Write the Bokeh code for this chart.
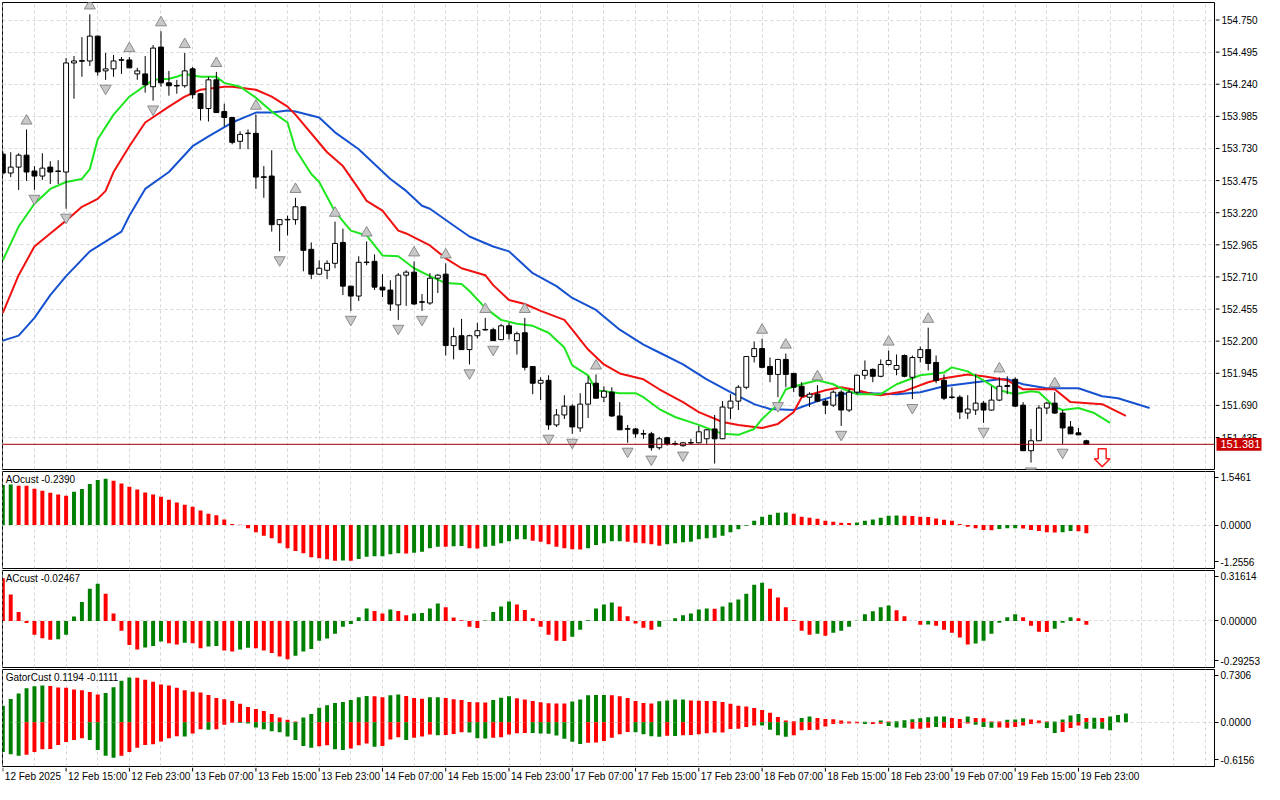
import numpy as np
from bokeh.plotting import figure
from bokeh.layouts import column, row
from bokeh.models import Range1d, FixedTicker, Span
from bokeh.core.properties import value
from bokeh.embed import file_html
from bokeh.resources import INLINE

FONT = "Liberation Sans"
GREEN = "#008000"
RED = "#ff0000"
GRID = "#d6d6d6"

# ---- H1 bars, 12 Feb 07:00 .. 20 Feb 00:00 (bar index = position on chart)
time_ticks = list(range(0, 137, 8))
time_labels = ["12 Feb 2025", "12 Feb 15:00", "12 Feb 23:00", "13 Feb 07:00", "13 Feb 15:00",
               "13 Feb 23:00", "14 Feb 07:00", "14 Feb 15:00", "14 Feb 23:00", "17 Feb 07:00",
               "17 Feb 15:00", "17 Feb 23:00", "18 Feb 07:00", "18 Feb 15:00", "18 Feb 23:00",
               "19 Feb 07:00", "19 Feb 15:00", "19 Feb 23:00"]

opens = [
    153.685, 153.535, 153.582, 153.677, 153.551, 153.511, 153.582, 153.551, 153.543, 154.409,
    154.422, 154.425, 154.622, 154.346, 154.362, 154.430, 154.433, 154.322, 154.322, 154.220,
    154.535, 154.251, 154.230, 154.228, 154.362, 154.165, 154.047, 154.275, 154.023, 153.976,
    153.787, 153.848, 153.850, 153.505, 153.511, 153.125, 153.163, 153.165, 153.267, 152.929,
    152.732, 152.763, 152.818, 152.984, 152.637, 152.558, 152.824, 152.834, 152.629, 152.606,
    152.488, 152.724, 152.748, 152.513, 152.503, 152.700, 152.732, 152.165, 152.243, 152.133,
    152.243, 152.289, 152.291, 152.212, 152.322, 152.204, 152.267, 151.999, 151.866, 151.889,
    151.535, 151.614, 151.684, 151.511, 151.700, 151.866, 151.755, 151.795, 151.606, 151.505,
    151.503, 151.466, 151.464, 151.354, 151.433, 151.387, 151.370, 151.391, 151.393, 151.425,
    151.503, 151.425, 151.669, 151.724, 151.834, 152.078, 152.141, 151.999, 151.936, 152.055,
    151.944, 151.842, 151.755, 151.779, 151.724, 151.692, 151.795, 151.653, 151.795, 151.929,
    151.976, 151.921, 152.015, 151.976, 152.086, 151.913, 152.070, 152.133, 152.031, 151.889,
    151.757, 151.755, 151.629, 151.653, 151.708, 151.653, 151.732, 151.840, 151.897, 151.692,
    151.330, 151.409, 151.669, 151.708, 151.629, 151.519, 151.472, 151.409,
]
highs = [
    153.708, 153.700, 153.692, 153.881, 153.590, 153.692, 153.629, 153.637, 154.448, 154.464,
    154.614, 154.795, 154.625, 154.488, 154.472, 154.456, 154.456, 154.370, 154.464, 154.551,
    154.661, 154.346, 154.275, 154.488, 154.377, 154.167, 154.299, 154.338, 154.086, 153.978,
    153.866, 153.881, 153.999, 153.590, 153.716, 153.167, 153.196, 153.338, 153.270, 152.984,
    152.842, 152.842, 153.149, 153.094, 152.640, 152.874, 152.992, 152.889, 152.732, 152.684,
    152.740, 152.763, 152.834, 152.574, 152.740, 152.732, 152.818, 152.307, 152.377, 152.251,
    152.346, 152.385, 152.307, 152.338, 152.346, 152.275, 152.385, 152.002, 151.913, 151.929,
    151.661, 151.771, 151.700, 151.787, 151.921, 151.936, 151.842, 151.834, 151.716, 151.535,
    151.511, 151.496, 151.480, 151.440, 151.440, 151.409, 151.401, 151.425, 151.527, 151.503,
    151.614, 151.724, 151.779, 151.850, 152.080, 152.196, 152.220, 152.070, 152.057, 152.102,
    151.947, 151.874, 151.795, 151.850, 151.740, 151.810, 151.810, 151.818, 151.936, 152.047,
    151.984, 152.055, 152.126, 152.094, 152.094, 152.086, 152.157, 152.307, 152.086, 151.936,
    151.834, 151.771, 151.771, 151.936, 151.724, 151.842, 151.913, 151.921, 151.913, 151.716,
    151.503, 151.692, 151.716, 151.795, 151.653, 151.566, 151.511, 151.417,
]
lows = [
    153.519, 153.503, 153.401, 153.472, 153.401, 153.480, 153.448, 153.448, 153.251, 154.125,
    154.299, 154.385, 154.307, 154.275, 154.299, 154.322, 154.368, 154.275, 154.173, 154.110,
    154.220, 154.149, 154.165, 154.212, 154.125, 153.952, 153.944, 154.013, 153.905, 153.763,
    153.724, 153.724, 153.409, 153.338, 153.070, 152.913, 153.039, 153.125, 152.755, 152.692,
    152.730, 152.692, 152.779, 152.566, 152.440, 152.519, 152.803, 152.606, 152.551, 152.440,
    152.369, 152.480, 152.488, 152.440, 152.488, 152.582, 152.086, 152.055, 152.130, 152.015,
    152.220, 152.283, 152.202, 152.210, 152.212, 152.094, 151.968, 151.779, 151.732, 151.496,
    151.519, 151.582, 151.464, 151.480, 151.590, 151.745, 151.716, 151.598, 151.494, 151.393,
    151.433, 151.425, 151.330, 151.338, 151.370, 151.370, 151.362, 151.377, 151.391, 151.385,
    151.228, 151.423, 151.582, 151.653, 151.818, 152.031, 151.984, 151.874, 151.755, 151.834,
    151.795, 151.755, 151.677, 151.716, 151.622, 151.677, 151.527, 151.637, 151.779, 151.897,
    151.874, 151.913, 152.007, 151.929, 151.913, 151.740, 152.031, 151.968, 151.866, 151.732,
    151.740, 151.582, 151.582, 151.614, 151.551, 151.650, 151.724, 151.779, 151.677, 151.328,
    151.236, 151.407, 151.622, 151.622, 151.385, 151.462, 151.454, 151.381,
]
closes = [
    153.535, 153.582, 153.677, 153.543, 153.511, 153.574, 153.543, 153.548, 154.409, 154.425,
    154.428, 154.622, 154.338, 154.362, 154.425, 154.435, 154.370, 154.346, 154.236, 154.527,
    154.251, 154.228, 154.226, 154.346, 154.157, 154.047, 154.275, 154.015, 153.976, 153.779,
    153.842, 153.852, 153.503, 153.500, 153.125, 153.165, 153.167, 153.267, 152.921, 152.732,
    152.779, 152.818, 152.976, 152.637, 152.558, 152.826, 152.828, 152.629, 152.606, 152.495,
    152.724, 152.748, 152.495, 152.509, 152.700, 152.724, 152.165, 152.236, 152.133, 152.243,
    152.283, 152.293, 152.204, 152.322, 152.259, 152.259, 151.992, 151.866, 151.889, 151.535,
    151.614, 151.684, 151.519, 151.700, 151.866, 151.747, 151.803, 151.606, 151.496, 151.501,
    151.464, 151.462, 151.354, 151.425, 151.385, 151.383, 151.393, 151.395, 151.480, 151.496,
    151.425, 151.677, 151.724, 151.834, 152.078, 152.141, 151.992, 151.936, 152.055, 151.936,
    151.834, 151.763, 151.779, 151.724, 151.692, 151.795, 151.653, 151.795, 151.929, 151.968,
    151.921, 152.015, 152.047, 152.007, 151.921, 152.070, 152.133, 152.023, 151.889, 151.747,
    151.753, 151.637, 151.661, 151.708, 151.653, 151.732, 151.842, 151.848, 151.684, 151.330,
    151.409, 151.669, 151.708, 151.629, 151.511, 151.464, 151.456, 151.381,
]
last_price = 151.381

# fractal bars
frac_up = [3, 11, 16, 20, 23, 27, 32, 37, 42, 46, 52, 56, 61, 66, 75, 96, 99, 103, 112, 117, 126, 133]
frac_dn = [4, 8, 13, 19, 35, 44, 50, 53, 59, 62, 69, 72, 79, 82, 86, 90, 98, 106, 115, 124, 130, 134]

# sell signal arrow
signal_bar = 139
signal_price = 151.346

# Alligator lines (already shifted forward), read at these bars
lips_idx = [0, 2, 4, 6, 8, 10, 11, 12, 14, 16, 19, 21, 22, 23, 25, 27, 28, 30, 32, 34, 36, 37, 39, 40, 42,
            44, 46, 48, 50, 52, 54, 56, 58, 59, 61, 63, 65, 67, 69, 71, 72, 74, 75, 78, 80, 81, 83, 85,
            88, 91, 93, 95, 96, 98, 99, 101, 103, 105, 106, 108, 111, 113, 116, 119, 120, 122, 124, 126,
            128, 130, 131, 133, 134, 136, 138, 140]
lips_val = [152.842, 153.110, 153.291, 153.409, 153.464, 153.488, 153.566, 153.803, 153.999, 154.141,
            154.275, 154.283, 154.299, 154.322, 154.299, 154.299, 154.251, 154.220, 154.133, 154.023,
            153.936, 153.724, 153.527, 153.464, 153.228, 153.078, 153.039, 152.881, 152.874, 152.779,
            152.716, 152.661, 152.653, 152.598, 152.464, 152.369, 152.338, 152.322, 152.267, 152.149,
            152.007, 151.929, 151.810, 151.787, 151.787, 151.755, 151.661, 151.598, 151.535, 151.464,
            151.456, 151.503, 151.582, 151.700, 151.818, 151.858, 151.889, 151.858, 151.826, 151.779,
            151.779, 151.858, 151.929, 151.952, 151.992, 151.960, 151.889, 151.810, 151.779, 151.803,
            151.795, 151.677, 151.653, 151.669, 151.629, 151.551]
teeth_idx = [0, 2, 4, 6, 8, 10, 12, 13, 14, 16, 18, 21, 23, 25, 28, 29, 32, 34, 36, 37, 41, 43, 45, 46,
             48, 50, 51, 54, 56, 58, 61, 62, 64, 66, 68, 71, 72, 74, 76, 78, 81, 83, 86, 88, 91, 93, 95,
             96, 98, 100, 101, 104, 106, 108, 110, 111, 114, 117, 119, 122, 124, 127, 129, 131, 133, 135,
             139, 142]
teeth_val = [152.425, 152.724, 152.952, 153.055, 153.157, 153.267, 153.330, 153.393, 153.543, 153.748,
             153.936, 154.062, 154.141, 154.196, 154.220, 154.220, 154.196, 154.141, 154.062, 153.999,
             153.700, 153.590, 153.409, 153.314, 153.236, 153.078, 153.055, 152.960, 152.858, 152.779,
             152.724, 152.645, 152.527, 152.495, 152.440, 152.369, 152.291, 152.133, 152.015, 151.944,
             151.897, 151.818, 151.716, 151.637, 151.558, 151.535, 151.519, 151.511, 151.543, 151.637,
             151.755, 151.810, 151.834, 151.810, 151.779, 151.771, 151.803, 151.874, 151.905, 151.936,
             151.921, 151.889, 151.818, 151.818, 151.818, 151.716, 151.700, 151.606]
jaw_idx = [0, 2, 4, 6, 8, 11, 15, 16, 18, 21, 24, 26, 29, 32, 34, 36, 37, 40, 42, 45, 49, 51, 53, 54, 57,
           59, 62, 64, 67, 70, 72, 75, 78, 81, 83, 86, 89, 92, 95, 97, 100, 101, 103, 106, 108, 110, 113,
           116, 119, 122, 126, 127, 129, 132, 136, 139, 141, 145]
jaw_val = [152.204, 152.244, 152.385, 152.566, 152.716, 152.913, 153.070, 153.196, 153.409, 153.543,
           153.748, 153.826, 153.936, 154.015, 154.015, 154.031, 154.023, 153.976, 153.858, 153.724,
           153.488, 153.393, 153.275, 153.251, 153.118, 153.031, 152.952, 152.913, 152.740, 152.637,
           152.543, 152.448, 152.291, 152.173, 152.110, 152.015, 151.897, 151.795, 151.700, 151.661,
           151.653, 151.677, 151.724, 151.779, 151.795, 151.787, 151.779, 151.795, 151.842, 151.866,
           151.897, 151.897, 151.858, 151.826, 151.826, 151.763, 151.747, 151.669]

# Awesome oscillator
ao = [1.154, 1.173, 1.135, 1.135, 1.048, 0.990, 0.933, 0.885, 0.846, 0.962,
      1.038, 1.183, 1.298, 1.337, 1.279, 1.202, 1.106, 1.029, 0.942, 0.885,
      0.817, 0.731, 0.654, 0.587, 0.529, 0.423, 0.327, 0.279, 0.163, 0.029,
      0.006, -0.096, -0.212, -0.308, -0.385, -0.529, -0.673, -0.750, -0.817, -0.933,
      -0.962, -0.990, -1.035, -1.025, -1.030, -0.981, -0.913, -0.905, -0.900, -0.846,
      -0.817, -0.820, -0.798, -0.769, -0.673, -0.625, -0.630, -0.610, -0.605, -0.673,
      -0.680, -0.625, -0.596, -0.529, -0.471, -0.413, -0.410, -0.452, -0.481, -0.558,
      -0.625, -0.673, -0.702, -0.710, -0.673, -0.577, -0.529, -0.471, -0.465, -0.481,
      -0.510, -0.529, -0.558, -0.596, -0.558, -0.529, -0.500, -0.481, -0.413, -0.385,
      -0.365, -0.308, -0.212, -0.125, -0.019, 0.125, 0.240, 0.298, 0.356, 0.360,
      0.327, 0.240, 0.212, 0.183, 0.125, 0.096, 0.067, 0.062, 0.070, 0.125,
      0.163, 0.212, 0.269, 0.272, 0.268, 0.260, 0.240, 0.235, 0.192, 0.154,
      0.125, 0.029, -0.048, -0.096, -0.144, -0.150, -0.115, -0.096, -0.090, -0.098,
      -0.144, -0.173, -0.212, -0.218, -0.210, -0.173, -0.180, -0.239]
ao_col = ("ggrrrrrrrg" "ggggrrrrrr" "rrrrrrrrrr" "rrrrrrrrrr" "rrrgrggggg" "grggggrggr"
          "rggggggrrr" "rrrrgggggr" "rrrrgggggg" "gggggggggg" "rrrrrrrrgg" "ggggrrrrrr"
          "rrrrrrgggr" "rrrrggrr")

# Accelerator oscillator
ac = [0.268, 0.165, 0.056, -0.014, -0.087, -0.109, -0.118, -0.115, -0.087, 0.027,
      0.118, 0.202, 0.233, 0.171, 0.047, -0.062, -0.151, -0.179, -0.167, -0.157,
      -0.130, -0.140, -0.148, -0.138, -0.140, -0.171, -0.161, -0.157, -0.186, -0.192,
      -0.179, -0.169, -0.171, -0.186, -0.202, -0.223, -0.241, -0.219, -0.192, -0.177,
      -0.124, -0.111, -0.080, -0.037, -0.019, 0.023, 0.078, 0.062, 0.047, 0.072,
      0.062, 0.035, 0.047, 0.050, 0.078, 0.109, 0.085, 0.021, 0.004, -0.037,
      -0.045, 0.002, 0.056, 0.091, 0.122, 0.103, 0.068, 0.016, -0.037, -0.087,
      -0.124, -0.126, -0.099, -0.056, 0.004, 0.078, 0.103, 0.115, 0.091, 0.029,
      -0.016, -0.043, -0.056, -0.037, 0.001, 0.016, 0.035, 0.047, 0.072, 0.078,
      0.076, 0.091, 0.115, 0.134, 0.171, 0.227, 0.239, 0.202, 0.146, 0.085,
      0.006, -0.062, -0.087, -0.080, -0.093, -0.074, -0.062, -0.037, 0.001, 0.041,
      0.060, 0.085, 0.097, 0.066, 0.029, -0.001, -0.025, -0.023, -0.031, -0.056,
      -0.074, -0.105, -0.148, -0.142, -0.124, -0.080, -0.012, 0.023, 0.041, 0.023,
      -0.031, -0.068, -0.070, -0.049, -0.012, 0.023, 0.016, -0.0247]
ac_col = ("rrrrrrrggg" "gggrrrrrgg" "grrgrrggrr" "ggrrrrrggg" "gggggggrrg" "rrggggrrrr"
          "rggggrrrrr" "rrggggggrr" "rrrggggggg" "rggggggrrr" "rrrgrggggg" "gggrrrrgrr"
          "rrrggggggr" "rrrgggrr")

# Gator oscillator (upper = |jaw-teeth|, lower = -|teeth-lips|)
gator_up = [0.227, 0.322, 0.399, 0.471, 0.499, 0.508, 0.503, 0.481, 0.478, 0.453,
            0.444, 0.417, 0.385, 0.403, 0.485, 0.576, 0.621, 0.617, 0.589, 0.562,
            0.521, 0.508, 0.476, 0.444, 0.422, 0.413, 0.376, 0.335, 0.317, 0.295,
            0.254, 0.209, 0.181, 0.154, 0.113, 0.063, 0.032, 0.008, 0.063, 0.113,
            0.199, 0.236, 0.267, 0.281, 0.308, 0.345, 0.363, 0.358, 0.345, 0.372,
            0.385, 0.363, 0.335, 0.326, 0.345, 0.347, 0.335, 0.317, 0.308, 0.281,
            0.277, 0.274, 0.308, 0.340, 0.358, 0.331, 0.313, 0.295, 0.277, 0.263,
            0.260, 0.258, 0.286, 0.313, 0.372, 0.376, 0.378, 0.372, 0.358, 0.335,
            0.295, 0.267, 0.258, 0.290, 0.299, 0.313, 0.315, 0.299, 0.297, 0.295,
            0.292, 0.281, 0.254, 0.227, 0.218, 0.195, 0.168, 0.131, 0.073, 0.023,
            0.014, 0.059, 0.077, 0.059, 0.045, 0.041, 0.023, 0.009, 0.005, 0.006,
            0.002, 0.023, 0.009, 0.014, 0.027, 0.041, 0.054, 0.068, 0.077, 0.078,
            0.059, 0.045, 0.077, 0.059, 0.054, 0.009, 0.008, 0.032, 0.036, 0.054,
            0.036, 0.023, 0.009, 0.010, 0.036, 0.091, 0.113, 0.059, 0.062, 0.059,
            0.077, 0.100, 0.119]
gator_up_col = ("ggggggrrrr" "rrrggggrrr" "rrrrrrrrrr" "rrrrrrrrgg" "gggggggrrg" "grrrggrrrr"
                "rrgggrrrrr" "rrgggggrrr" "rrrggggrrr" "rrrrrrrrrr" "rggrrrrrrg" "rgrggggggg"
                "rrgrrrrggg" "rrrggggrgr" "ggg")
gator_dn = [-0.413, -0.444, -0.467, -0.453, -0.413, -0.376, -0.374, -0.317, -0.277, -0.249,
            -0.222, -0.249, -0.385, -0.467, -0.494, -0.467, -0.413, -0.354, -0.317, -0.308,
            -0.267, -0.222, -0.195, -0.199, -0.159, -0.100, -0.104, -0.100, -0.036, -0.009,
            -0.012, -0.018, -0.073, -0.100, -0.127, -0.141, -0.199, -0.249, -0.331, -0.354,
            -0.335, -0.320, -0.376, -0.385, -0.367, -0.322, -0.295, -0.340, -0.331, -0.240,
            -0.209, -0.249, -0.218, -0.199, -0.172, -0.181, -0.177, -0.163, -0.141, -0.145,
            -0.222, -0.227, -0.218, -0.209, -0.172, -0.154, -0.150, -0.152, -0.156, -0.160,
            -0.186, -0.230, -0.272, -0.304, -0.286, -0.281, -0.263, -0.218, -0.168, -0.136,
            -0.140, -0.168, -0.195, -0.204, -0.190, -0.193, -0.181, -0.179, -0.168, -0.154,
            -0.145, -0.143, -0.095, -0.091, -0.068, -0.045, -0.048, -0.104, -0.181, -0.204,
            -0.181, -0.113, -0.109, -0.104, -0.059, -0.027, -0.023, -0.018, -0.014, -0.027,
            -0.025, -0.023, -0.054, -0.073, -0.077, -0.091, -0.091, -0.077, -0.068, -0.077,
            -0.082, -0.082, -0.018, -0.036, -0.068, -0.077, -0.073, -0.077, -0.068, -0.045,
            -0.027, -0.014, -0.082, -0.150, -0.136, -0.082, -0.045, -0.091, -0.091, -0.091,
            -0.111]
gator_dn_col = ("gggrrrrrrr" "rggggrrrrr" "rrrgrrgrrr" "gggggggggg" "rrggrrrgrr" "rgrrrgrrrg"
                "ggrrrrrggg" "ggggrrrrrr" "ggggrgrrrr" "rrrrrrgggg" "rrrrrrrrrg" "rrgggrrrgr"
                "rrrgggrrrr" "rrggrrrggg" "g")

# axis scales
price_ticks = [154.750, 154.495, 154.240, 153.985, 153.730, 153.475, 153.220, 152.965,
               152.710, 152.455, 152.200, 151.945, 151.690, 151.435]
price_lo, price_hi = 151.181, 154.889
ao_lo, ao_hi = -1.2556, 1.5461
ac_lo, ac_hi = -0.29253, 0.31614
gator_lo, gator_hi = -0.6156, 0.7306

W = 1264
AXIS_W = 50
xr = Range1d(-0.04, 153.2)
vgrid_ticks = list(range(0, 156, 4))


def bare(p):
    p.outline_line_color = None
    p.xgrid.visible = False
    p.ygrid.visible = False


def make_panel(w, h, lo, hi, top=1, bottom=1, right=AXIS_W, yaxis=True):
    p = figure(width=w, height=h, x_range=xr, y_range=Range1d(lo, hi),
               x_axis_location=None, y_axis_location="right" if yaxis else None,
               toolbar_location=None, output_backend="svg",
               min_border_left=2, min_border_right=right, min_border_top=top, min_border_bottom=bottom)
    p.outline_line_color = "black"
    p.outline_line_alpha = 1.0
    p.xgrid.ticker = FixedTicker(ticks=vgrid_ticks)
    for g in (p.xgrid, p.ygrid):
        g.grid_line_color = GRID
        g.grid_line_dash = "3 3"
    if yaxis:
        ax = p.yaxis[0]
        ax.major_tick_out = 4
        ax.major_tick_in = 0
        ax.minor_tick_line_color = None
        ax.axis_line_color = "black"
        ax.major_tick_line_color = "black"
        ax.major_label_text_font = FONT
        ax.major_label_text_font_size = "10px"
        ax.major_label_text_color = "black"
        ax.major_label_standoff = 2
    return p


def sub_axis(p, lo, hi, labels):
    # end labels sit just inside the panel, like the terminal draws them
    span = hi - lo
    t_hi = round(hi - 0.06 * span, 5)
    t_lo = round(lo + 0.07 * span, 5)
    p.yaxis.ticker = FixedTicker(ticks=[t_lo, 0.0, t_hi])
    p.yaxis.major_label_overrides = {t_hi: labels[0], 0.0: labels[1], t_lo: labels[2]}
    p.ygrid.ticker = FixedTicker(ticks=[0.0])


def title(p, lo, hi, text):
    p.text(x=[xr.start + 0.4], y=[hi - 0.03 * (hi - lo)], text=[text],
           text_baseline="top", text_align="left", text_font=value(FONT),
           text_font_size="10px", text_color="black")


def histogram(p, vals, cols):
    v = np.array(vals)
    x = np.arange(len(v))
    colors = [GREEN if ch == "g" else RED for ch in cols]
    p.vbar(x=x, top=np.maximum(v, 0), bottom=np.minimum(v, 0), width=0.5,
           fill_color=colors, line_color=None)


# ---- main price panel (its price scale is a separate strip on the right)
MAIN_H = 470
p = make_panel(W - AXIS_W + 1, MAIN_H, price_lo, price_hi, top=2, right=1, yaxis=False)
p.ygrid.ticker = FixedTicker(ticks=price_ticks)

p.add_layout(Span(location=last_price, dimension="width", line_color="#a00000", line_width=1))

o = np.array(opens)
c = np.array(closes)
hi_ = np.array(highs)
lo_ = np.array(lows)
idx = np.arange(len(o))
bull = c >= o
btop = np.maximum(o, c)
bbot = np.minimum(o, c)

p.line(jaw_idx, jaw_val, line_color="#1652d0", line_width=2)
p.line(teeth_idx, teeth_val, line_color="#f01010", line_width=2)
p.line(lips_idx, lips_val, line_color="#1ee61e", line_width=2)

p.segment(x0=idx, y0=lo_, x1=idx, y1=hi_, line_color="black", line_width=1)
p.vbar(x=idx[bull], top=btop[bull], bottom=bbot[bull], width=0.62,
       fill_color="white", line_color="black", line_width=1)
p.vbar(x=idx[~bull], top=btop[~bull], bottom=bbot[~bull], width=0.62,
       fill_color="black", line_color="black", line_width=1)

frac_gap = 0.068
p.scatter(frac_up, hi_[frac_up] + frac_gap, marker="triangle", size=11,
          fill_color="#c8c8c8", line_color="#8a8a8a", line_width=1)
p.scatter(frac_dn, lo_[frac_dn] - frac_gap, marker="inverted_triangle", size=11,
          fill_color="#c8c8c8", line_color="#8a8a8a", line_width=1)

# hollow red sell arrow
sx, sy = signal_bar, signal_price
sh, hh, sw, hw = 0.079, 0.063, 0.5, 1.0
p.patch([sx - sw, sx + sw, sx + sw, sx + hw, sx, sx - hw, sx - sw],
        [sy, sy, sy - sh, sy - sh, sy - sh - hh, sy - sh, sy - sh],
        fill_color="white", line_color="#ff2020", line_width=1.5)

# price scale strip
pa = figure(width=AXIS_W - 1, height=MAIN_H, x_range=Range1d(0, AXIS_W - 1), y_range=p.y_range,
            x_axis_location=None, y_axis_location=None, toolbar_location=None,
            output_backend="svg", min_border_left=0, min_border_right=0,
            min_border_top=2, min_border_bottom=1)
bare(pa)
pa.segment(x0=0, y0=price_ticks, x1=4, y1=price_ticks, line_color="black", line_width=1)
pa.text(x=6, y=price_ticks, text=[f"{t:.3f}" for t in price_ticks], text_baseline="middle",
        text_align="left", text_font=value(FONT), text_font_size="10px", text_color="black")
box_h = 0.051
pa.quad(left=[1], right=[46], bottom=[last_price - box_h], top=[last_price + box_h],
        fill_color="#c80000", line_color=None)
pa.text(x=[5], y=[last_price], text=[f"{last_price:.3f}"], text_baseline="middle",
        text_align="left", text_font=value(FONT), text_font_size="11px", text_color="white")

# ---- AO
p_ao = make_panel(W, 99, ao_lo, ao_hi)
sub_axis(p_ao, ao_lo, ao_hi, ["1.5461", "0.0000", "-1.2556"])
histogram(p_ao, ao, ao_col)
title(p_ao, ao_lo, ao_hi, "AOcust -0.2390")

# ---- AC
p_ac = make_panel(W, 99, ac_lo, ac_hi)
sub_axis(p_ac, ac_lo, ac_hi, ["0.31614", "0.00000", "-0.29253"])
histogram(p_ac, ac, ac_col)
title(p_ac, ac_lo, ac_hi, "ACcust -0.02467")

# ---- Gator
p_g = make_panel(W, 99, gator_lo, gator_hi)
sub_axis(p_g, gator_lo, gator_hi, ["0.7306", "0.0000", "-0.6156"])
histogram(p_g, gator_up, gator_up_col)
histogram(p_g, gator_dn, gator_dn_col)
title(p_g, gator_lo, gator_hi, "GatorCust 0.1194 -0.1111")

# ---- time scale strip
TIME_H = 17
pt = figure(width=W, height=TIME_H, x_range=xr, y_range=Range1d(0, TIME_H),
            x_axis_location=None, y_axis_location=None, toolbar_location=None,
            output_backend="svg", min_border_left=2, min_border_right=AXIS_W,
            min_border_top=0, min_border_bottom=0)
bare(pt)
pt.segment(x0=time_ticks, y0=TIME_H, x1=time_ticks, y1=TIME_H - 4, line_color="black", line_width=1)
pt.text(x=time_ticks, y=TIME_H - 3, text=time_labels, x_offset=2, text_baseline="top",
        text_align="left", text_font=value(FONT), text_font_size="10px", text_color="black")

layout = column(row(p, pa, spacing=0), p_ao, p_ac, p_g, pt, spacing=0)
open("out.html", "w").write(file_html(layout, INLINE))
